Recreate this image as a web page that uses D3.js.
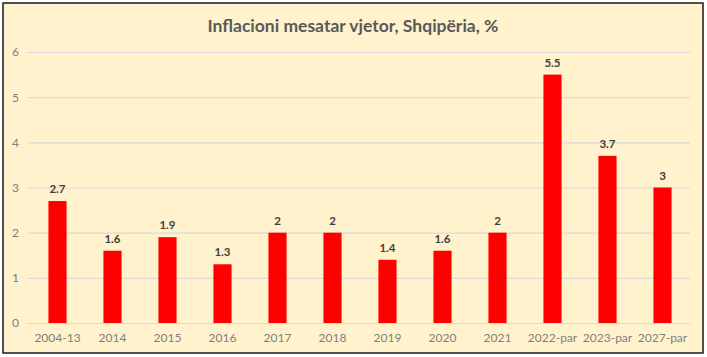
<!DOCTYPE html>
<html><head><meta charset="utf-8">
<script src="https://cdn.jsdelivr.net/npm/d3@7"></script>
<style>
html,body{margin:0;padding:0;background:#fff;}
svg{display:block;}
</style></head>
<body>
<script>
const categories = ["2004-13","2014","2015","2016","2017","2018","2019","2020","2021","2022-par","2023-par","2027-par"];
const values = [2.7,1.6,1.9,1.3,2,2,1.4,1.6,2,5.5,3.7,3];
const valueLabels = ["2.7","1.6","1.9","1.3","2","2","1.4","1.6","2","5.5","3.7","3"];
const yTicks = [0,1,2,3,4,5,6];
const title = "Inflacioni mesatar vjetor, Shqipëria, %";

const W = 707, H = 357;
const svg = d3.select("body").append("svg").attr("width", W).attr("height", H);
const font = "Lato, 'Open Sans', sans-serif";

svg.append("rect").attr("x",3).attr("y",3).attr("width",700).attr("height",350)
  .attr("fill","#fff2cc").attr("stroke","#1a1a1a").attr("stroke-width",1.5);

const x = d3.scaleBand().domain(categories).range([30,690]).paddingInner(0.67).paddingOuter(0.335);
const y = d3.scaleLinear().domain([0,6]).range([323,52]);

svg.append("text").attr("x",353).attr("y",32).attr("text-anchor","middle")
  .attr("font-family",font).attr("font-weight","bold").attr("font-size",17.5)
  .attr("fill","#595959").text(title);

const yAxis = d3.axisLeft(y).tickValues(yTicks).tickFormat(d3.format("d")).tickSize(-(690-28)).tickPadding(8);
const gy = svg.append("g").attr("transform","translate(28,0)").call(yAxis);
gy.select(".domain").remove();
gy.selectAll(".tick line").attr("stroke","#d9d9d9").attr("stroke-width",1.2);
gy.selectAll(".tick text").attr("font-family",font).attr("font-size",12).attr("fill","#7f7f7f").attr("x",-9);

svg.selectAll("rect.bar").data(values).join("rect").attr("class","bar")
  .attr("x",(d,i)=>x(categories[i])).attr("width",x.bandwidth())
  .attr("y",d=>y(d)).attr("height",d=>y(0)-y(d)).attr("fill","#ff0000");

svg.selectAll("text.val").data(values).join("text").attr("class","val")
  .attr("x",(d,i)=>x(categories[i])+x.bandwidth()/2).attr("y",d=>y(d)-8)
  .attr("text-anchor","middle").attr("font-family",font).attr("font-weight","bold")
  .attr("font-size",11.5).attr("fill","#404040").text((d,i)=>valueLabels[i]);

const xAxis = d3.axisBottom(x).tickSize(0).tickPadding(10);
const gx = svg.append("g").attr("transform","translate(0,323)").call(xAxis);
gx.select(".domain").remove();
gx.selectAll(".tick text").attr("font-family",font).attr("font-size",12).attr("fill","#7f7f7f");
</script>
</body></html>
